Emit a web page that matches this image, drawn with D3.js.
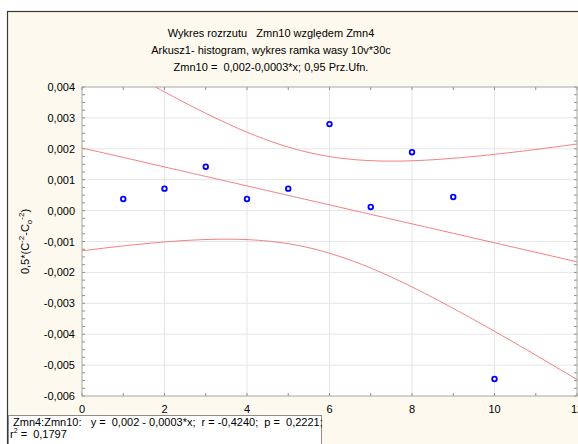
<!DOCTYPE html>
<html>
<head>
<meta charset="utf-8">
<script src="https://cdn.jsdelivr.net/npm/d3@7"></script>
<style>
  body { margin: 0; background: #fff; }
  text { font-family: "Liberation Sans", Arial, sans-serif; font-size: 11px; fill: #000; }
</style>
</head>
<body>
<div id="my_dataviz"></div>
<script>
// data
var xValues = [1, 2, 3, 4, 5, 6, 7, 8, 9, 10];
var yValues = [0.000375, 0.00071, 0.00142, 0.000375, 0.00071, 0.0028, 0.000117, 0.00189, 0.00044, -0.00545];
var xTicks = [0, 2, 4, 6, 8, 10, 12];
var yTicks = [0.004, 0.003, 0.002, 0.001, 0, -0.001, -0.002, -0.003, -0.004, -0.005, -0.006];
var titleLines = ["Wykres rozrzutu   Zmn10 względem Zmn4",
                  "Arkusz1- histogram, wykres ramka wasy 10v*30c",
                  "Zmn10 =  0,002-0,0003*x; 0,95 Prz.Ufn."];
var statLine1 = "Zmn4:Zmn10:   y =  0,002 - 0,0003*x;  r = -0,4240;  p =  0,2221;";
var statLine2 = " =  0,1797";
var tCrit = 2.306; // t(0.975, df=8)

var W = 578, H = 444;
var margin = {top: 87, right: 1, bottom: 48, left: 82};

var svg = d3.select("#my_dataviz")
  .append("svg")
    .attr("width", W)
    .attr("height", H);

// outer frame
svg.append("rect")
  .attr("x", 7.5).attr("y", 11.5)
  .attr("width", W + 20).attr("height", H + 20)
  .attr("fill", "#fdf9ee")
  .attr("stroke", "#3a3a3a")
  .attr("stroke-width", 1.2);

var x = d3.scaleLinear().domain([0, 12]).range([margin.left, W - margin.right]);
var y = d3.scaleLinear().domain([-0.006, 0.004]).range([H - margin.bottom, margin.top]);
var fmt = function(v) { return d3.format(".3f")(v).replace(".", ",").replace("−", "-"); };

// plot background
svg.append("rect")
  .attr("x", x(0)).attr("y", y(0.004))
  .attr("width", x(12) - x(0)).attr("height", y(-0.006) - y(0.004))
  .attr("fill", "#fff");

// grid
svg.append("g")
  .selectAll("line").data(xTicks.slice(1, -1)).enter().append("line")
    .attr("x1", d => x(d)).attr("x2", d => x(d))
    .attr("y1", y(0.004)).attr("y2", y(-0.006))
    .attr("stroke", "#e6e6e6");
svg.append("g")
  .selectAll("line").data(yTicks.slice(1, -1)).enter().append("line")
    .attr("x1", x(0)).attr("x2", x(12))
    .attr("y1", d => y(d)).attr("y2", d => y(d))
    .attr("stroke", "#e6e6e6");

// inward ticks on all four sides
var xMinor = d3.range(0, 12.01, 1);
var yMinor = d3.range(-0.006, 0.00401, 0.00025);
var tickG = svg.append("g").attr("stroke", "#8c8c8c");
tickG.selectAll(".tb").data(xMinor).enter().append("line")
  .attr("x1", d => x(d)).attr("x2", d => x(d))
  .attr("y1", y(-0.006)).attr("y2", y(-0.006) - 3);
tickG.selectAll(".tt").data(xMinor).enter().append("line")
  .attr("x1", d => x(d)).attr("x2", d => x(d))
  .attr("y1", y(0.004)).attr("y2", y(0.004) + 3);
tickG.selectAll(".tl").data(yMinor).enter().append("line")
  .attr("x1", x(0)).attr("x2", x(0) + 3)
  .attr("y1", d => y(d)).attr("y2", d => y(d));
tickG.selectAll(".tr").data(yMinor).enter().append("line")
  .attr("x1", x(12)).attr("x2", x(12) - 3)
  .attr("y1", d => y(d)).attr("y2", d => y(d));

// regression and 0.95 confidence band, computed from the points
var n = xValues.length;
var mx = d3.mean(xValues), my = d3.mean(yValues);
var sxx = d3.sum(xValues, d => (d - mx) * (d - mx));
var sxy = d3.sum(xValues, (d, i) => (d - mx) * (yValues[i] - my));
var b = sxy / sxx, a = my - b * mx;
var sse = d3.sum(xValues, (d, i) => Math.pow(yValues[i] - (a + b * d), 2));
var s = Math.sqrt(sse / (n - 2));
var xs = d3.range(0, 12.001, 0.1);
var half = function(v) { return tCrit * s * Math.sqrt(1 / n + (v - mx) * (v - mx) / sxx); };

svg.append("clipPath").attr("id", "clip")
  .append("rect")
    .attr("x", x(0)).attr("y", y(0.004))
    .attr("width", x(12) - x(0)).attr("height", y(-0.006) - y(0.004));

var line = d3.line().x(d => x(d[0])).y(d => y(d[1]));
var lines = svg.append("g").attr("clip-path", "url(#clip)");
[xs.map(v => [v, a + b * v]),
 xs.map(v => [v, a + b * v + half(v)]),
 xs.map(v => [v, a + b * v - half(v)])].forEach(function(pts) {
  lines.append("path")
    .attr("d", line(pts))
    .attr("fill", "none")
    .attr("stroke", "#f47f7f")
    .attr("stroke-width", 1);
});

// points
svg.append("g")
  .selectAll("circle").data(xValues).enter().append("circle")
    .attr("cx", d => x(d))
    .attr("cy", (d, i) => y(yValues[i]))
    .attr("r", 2.3)
    .attr("fill", "#fff")
    .attr("stroke", "#0000ff")
    .attr("stroke-width", 1.8);

// plot border
svg.append("rect")
  .attr("x", x(0)).attr("y", y(0.004))
  .attr("width", x(12) - x(0)).attr("height", y(-0.006) - y(0.004))
  .attr("fill", "none")
  .attr("stroke", "#a6a6a6");

// tick labels
svg.append("g")
  .selectAll("text").data(xTicks).enter().append("text")
    .attr("x", d => x(d))
    .attr("y", y(-0.006) + 17)
    .style("text-anchor", "middle")
    .text(d => d);
svg.append("g")
  .selectAll("text").data(yTicks).enter().append("text")
    .attr("x", x(0) - 7)
    .attr("y", d => y(d) + 4)
    .style("text-anchor", "end")
    .text(d => fmt(d));

// titles
svg.append("g")
  .selectAll("text").data(titleLines).enter().append("text")
    .attr("x", 271)
    .attr("y", (d, i) => 37 + i * 17)
    .style("text-anchor", "middle")
    .style("white-space", "pre")
    .text(d => d);

// y axis label
var yl = svg.append("text")
  .attr("transform", "translate(29," + ((y(0.004) + y(-0.006)) / 2) + ") rotate(-90)")
  .style("text-anchor", "middle");
yl.append("tspan").text("0,5*(C");
yl.append("tspan").attr("dy", -5).style("font-size", "8px").text("-2");
yl.append("tspan").attr("dy", 5).text("-C");
yl.append("tspan").attr("dy", 3).style("font-size", "8px").text("o");
yl.append("tspan").attr("dy", -8).style("font-size", "8px").text("-2");
yl.append("tspan").attr("dy", 5).text(")");

// stats box
svg.append("rect")
  .attr("x", 8.5).attr("y", 415.5)
  .attr("width", 313).attr("height", 40)
  .attr("fill", "#fff")
  .attr("stroke", "#8c8c8c");
svg.append("text")
  .attr("x", 13).attr("y", 426)
  .style("white-space", "pre")
  .text(statLine1);
var st = svg.append("text").attr("x", 10).attr("y", 438);
st.append("tspan").text("r");
st.append("tspan").attr("dy", -5).style("font-size", "7px").text("2");
st.append("tspan").attr("dy", 5).style("white-space", "pre").text(statLine2);
</script>
</body>
</html>
